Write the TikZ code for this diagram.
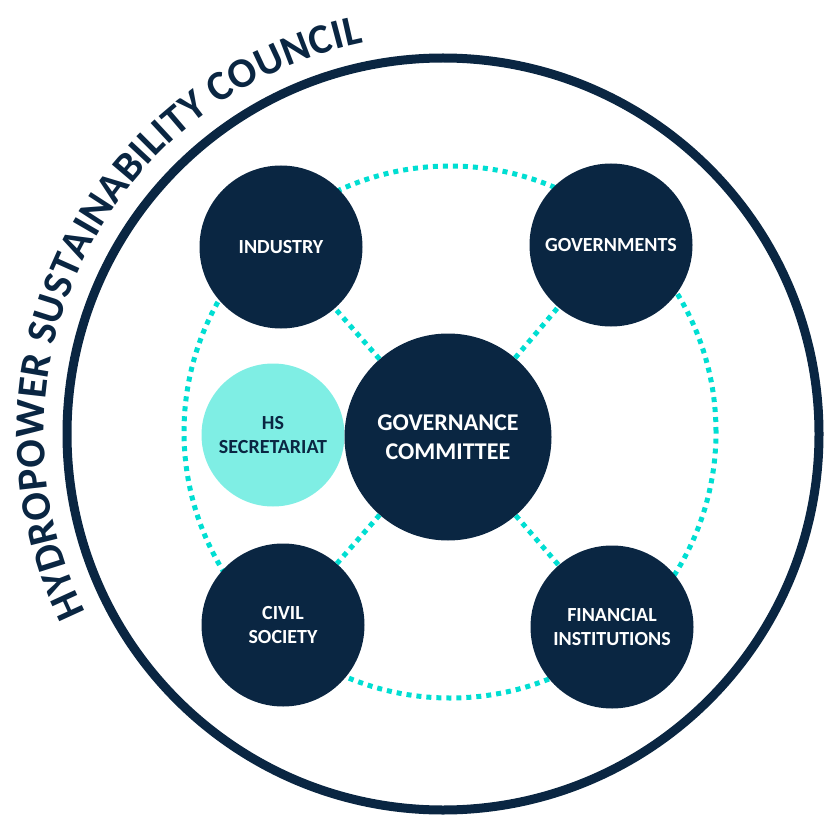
\documentclass[tikz,border=0pt]{standalone}
\usepackage{fontspec}
\setmainfont{Carlito}
\usetikzlibrary{decorations.text}
\definecolor{navy}{RGB}{10,38,66}
\definecolor{aqua}{RGB}{0,222,210}
\definecolor{lightaqua}{RGB}{127,238,228}

\begin{document}
\begin{tikzpicture}[x = 1pt, y = 1pt]
\tikzstyle{memberStyle}=[shape = circle, minimum size = 163pt, inner sep = 0pt, fill = navy, text = white, align = center, font = \bfseries\fontsize{20}{24.3}\selectfont]
\tikzstyle{committeeStyle}=[memberStyle, minimum size = 207pt, font = \bfseries\fontsize{24}{28.7}\selectfont]
\tikzstyle{secretariatStyle}=[memberStyle, minimum size = 143pt, fill = lightaqua, text = navy]
\tikzstyle{linkStyle}=[draw = aqua, line width = 5pt, dash pattern = on 5pt off 5pt]
\useasboundingbox (0,0) rectangle (824,-818);
\draw[navy, line width = 9pt] (443,-434) circle (376pt);
\draw[linkStyle] (450,-432) circle (266pt);
\path[decorate, decoration = {text along path, text color = navy, text = {|\bfseries\fontsize{42}{42}\selectfont|HYDROPOWER SUSTAINABILITY COUNCIL}, text align = fit to path}] (443,-434) ++(206.5:399pt) arc[start angle = 206.5, end angle = 101.5, radius = 399pt];
\node[memberStyle] (industry) at (281,-247) {INDUSTRY};
\node[memberStyle] (governments) at (611,-245) {GOVERNMENTS};
\node[memberStyle] (civil) at (283,-625) {CIVIL\\SOCIETY};
\node[memberStyle] (financial) at (612,-627) {FINANCIAL\\INSTITUTIONS};
\node[secretariatStyle] (secretariat) at (273,-435) {HS\\SECRETARIAT};
\node[committeeStyle] (committee) at (448,-437) {GOVERNANCE\\COMMITTEE};
\draw[linkStyle] (committee) -- (industry);
\draw[linkStyle] (committee) -- (governments);
\draw[linkStyle] (committee) -- (civil);
\draw[linkStyle] (committee) -- (financial);
\end{tikzpicture}
\end{document}
